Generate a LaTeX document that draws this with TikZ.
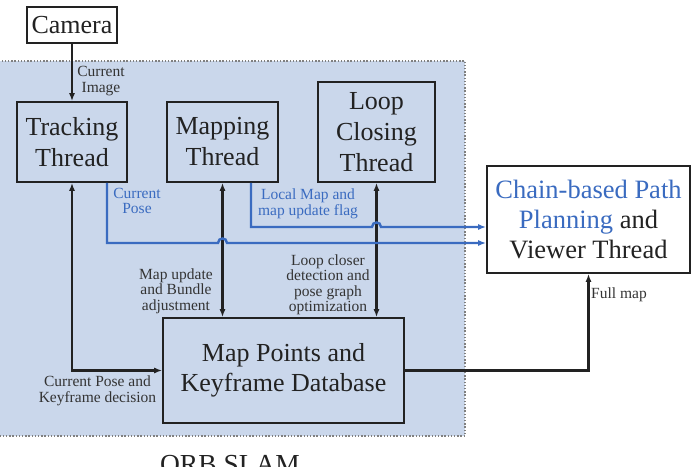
\documentclass[tikz,border=0pt]{standalone}
\usepackage{fontspec}
\setmainfont{Liberation Serif}
\usetikzlibrary{arrows.meta}
\definecolor{regionfill}{HTML}{CAD7EB}
\definecolor{bluel}{HTML}{3A6BC0}
\definecolor{ink}{HTML}{222222}
\definecolor{lblink}{HTML}{333333}
\begin{document}
\begin{tikzpicture}[x=1pt,y=-1pt,
  box/.style={draw=ink, line width=1.6pt, align=center, font=\fontsize{26}{31}\selectfont, text=ink, inner sep=0pt},
  lbl/.style={align=center, font=\fontsize{15.5}{15.5}\selectfont, text=lblink, inner sep=0pt},
  blbl/.style={lbl, text=bluel},
  arr/.style={line width=2.4pt, draw=ink, -{Latex[length=8pt,width=6pt]}},
  darr/.style={line width=2.4pt, draw=ink, {Latex[length=8pt,width=6pt]}-{Latex[length=8pt,width=6pt]}},
  barr/.style={line width=2.4pt, draw=bluel, -{Latex[length=8pt,width=6pt]}}]
\useasboundingbox (0,0) rectangle (698,466);
\clip (0,0) rectangle (698,466);
% shaded ORB SLAM region
\fill[regionfill] (-3,61) rectangle (465,436);
\draw[gray, line width=1.4pt, dash pattern=on 1.4pt off 1.8pt] (-3,61) rectangle (465,436);
% boxes
\node[box, fill=white, minimum width=90pt, minimum height=36pt] (camera) at (72,25) {Camera};
\node[box, minimum width=110pt, minimum height=80pt] (track) at (72,142) {Tracking\\Thread};
\node[box, minimum width=111pt, minimum height=80pt] (mapping) at (222.5,142) {Mapping\\Thread};
\node[box, minimum width=117pt, minimum height=100pt] (loop) at (376.5,132) {Loop\\Closing\\Thread};
\node[box, fill=white, minimum width=203pt, minimum height=107pt, font=\fontsize{26.5}{30}\selectfont] (chain) at (588.5,219.5)
  {\textcolor{bluel}{Chain-based Path}\\\textcolor{bluel}{Planning} and\\Viewer Thread};
\node[box, minimum width=241pt, minimum height=105pt, font=\fontsize{26}{30}\selectfont] (mapdb) at (283.5,370.5) {Map Points and\\Keyframe Database};
% black connectors
\draw[arr] (camera.south) -- (track.north);
\draw[darr] (track.south) |- (mapdb.west);
\draw[darr] (mapping.south) -- (mapping.south |- mapdb.north);
\draw[darr] (loop.south) -- (loop.south |- mapdb.north);
\draw[arr] (mapdb.east) -| (chain.south);
% blue connectors
\coordinate (cpy) at (0,243);
\coordinate (lmy) at (0,227);
\draw[barr] ([xshift=35pt]track.south) |- ([xshift=-4.5pt]mapping.south |- cpy)
  .. controls +(0,-6) and +(0,-6) .. ([xshift=4.5pt]mapping.south |- cpy) -- (chain.west |- cpy);
\draw[barr] ([xshift=28.5pt]mapping.south) |- ([xshift=-4.5pt]loop.south |- lmy)
  .. controls +(0,-6) and +(0,-6) .. ([xshift=4.5pt]loop.south |- lmy) -- (chain.west |- lmy);
% labels
\node[lbl] (lcimg) at (101,81) {Current\\Image};
\node[blbl] (lcpose) at (137,201) {Current\\Pose};
\node[blbl] (llocal) at (308,204) {Local Map and\\map update flag};
\node[lbl] (lmapup) at (176,291) {Map update\\and Bundle\\adjustment};
\node[lbl] (lloop) at (328,285) {Loop closer\\detection and\\pose graph\\optimization};
\node[lbl] (lkey) at (97.5,391) {Current Pose and\\Keyframe decision};
\node[lbl, anchor=base west] (lfull) at (591,298) {Full map};
\node[anchor=base, font=\fontsize{27.5}{30}\selectfont, text=ink, inner sep=0pt] (orb) at (230,473) {ORB SLAM};
\end{tikzpicture}
\end{document}
